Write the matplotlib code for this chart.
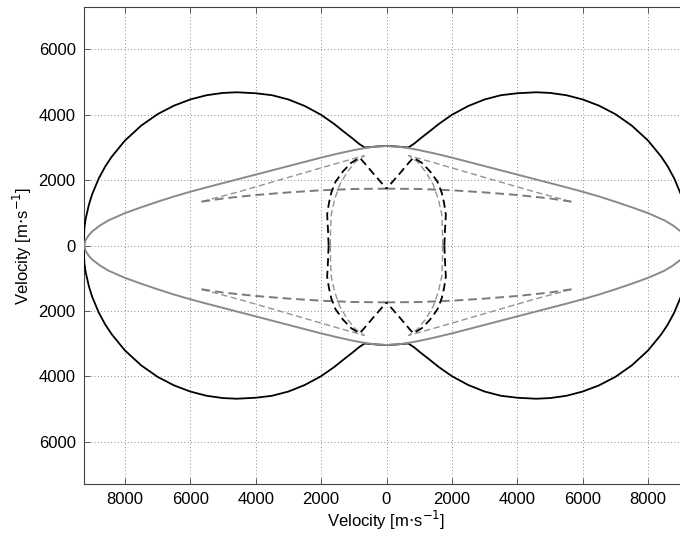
import numpy as np
import matplotlib
matplotlib.use("Agg")
import matplotlib.pyplot as plt
from matplotlib.ticker import FixedLocator

plt.rcParams["font.family"] = ["Liberation Sans", "DejaVu Sans"]
plt.rcParams["font.size"] = 12

# First-quadrant traces (x, y) in m/s; the surfaces are symmetric about both axes
QP_PHASE_X = [9260, 9240, 9200, 9100, 9000, 8800, 8600, 8400, 8000, 7500, 7000, 6500,
              6000, 5500, 5000, 4580, 4000, 3500, 3000, 2500, 2000, 1600, 1300, 1030,
              850, 670, 500, 250, 0]
QP_PHASE_Y = [0, 530, 810, 1250, 1570, 2050, 2420, 2720, 3210, 3670, 4020, 4280,
              4470, 4600, 4670, 4690, 4660, 4600, 4470, 4270, 4000, 3720, 3480, 3270,
              3120, 3000, 3012, 3035, 3045]

LENS_X = [9240, 9200, 9100, 9000, 8750, 8500, 8000, 7500, 7000, 6500, 6000, 5500,
          5000, 4500, 4000, 3500, 3000, 2500, 2000, 1500, 1000, 700, 400, 0]
LENS_Y = [0, 170, 320, 430, 620, 770, 990, 1170, 1340, 1500, 1645, 1780,
          1910, 2040, 2170, 2300, 2430, 2560, 2690, 2810, 2920, 2975, 3020, 3045]

QS_GROUP_X = [1770, 1790, 1815, 1760, 1690, 1560, 1330, 1080, 820, 620, 410, 200, 0]
QS_GROUP_Y = [0, 500, 950, 1300, 1610, 1950, 2270, 2530, 2690, 2460, 2210, 1970, 1740]

CUSP_OUTER_X = [1720, 1710, 1690, 1590, 1430, 1200, 950, 680, 1500, 2500, 3500, 4500, 5660]
CUSP_OUTER_Y = [0, 500, 950, 1400, 1860, 2250, 2560, 2750, 2520, 2230, 1940, 1650, 1340]

CUSP_INNER_X = [5660, 5000, 4000, 3000, 2000, 1000, 0]
CUSP_INNER_Y = [1340, 1440, 1545, 1625, 1690, 1730, 1740]

XTICKS = [-8000, -6000, -4000, -2000, 0, 2000, 4000, 6000, 8000]
XTICK_LABELS = ["8000", "6000", "4000", "2000", "0", "2000", "4000", "6000", "8000"]
YTICKS = [-6000, -4000, -2000, 0, 2000, 4000, 6000]
YTICK_LABELS = ["6000", "4000", "2000", "0", "2000", "4000", "6000"]


def closed(qx, qy):
    """Mirror a first-quadrant trace into a closed curve."""
    qx = np.asarray(qx, float)
    qy = np.asarray(qy, float)
    x = np.concatenate([qx, -qx[::-1], -qx, qx[::-1]])
    y = np.concatenate([qy, qy[::-1], -qy, -qy[::-1]])
    return x, y


def quadrants(ax, qx, qy, **kw):
    qx = np.asarray(qx, float)
    qy = np.asarray(qy, float)
    for sx, sy in [(1, 1), (-1, 1), (-1, -1), (1, -1)]:
        ax.plot(sx * qx, sy * qy, **kw)


def main():
    fig = plt.figure(figsize=(6.8, 5.34), dpi=100)
    ax = fig.add_axes([84.0 / 680, 50.0 / 534, 605.0 / 680, 477.0 / 534])

    dash = (0, (4.5, 2.5))
    x, y = closed(QP_PHASE_X, QP_PHASE_Y)
    ax.plot(x, y, color="black", lw=1.3, zorder=3)
    x, y = closed(LENS_X, LENS_Y)
    ax.plot(x, y, color="#8a8a8a", lw=1.4, zorder=4)
    quadrants(ax, QS_GROUP_X, QS_GROUP_Y, color="black", lw=1.3, linestyle=dash, zorder=3)
    quadrants(ax, CUSP_OUTER_X, CUSP_OUTER_Y, color="#939393", lw=1.0, linestyle=dash, zorder=2)
    quadrants(ax, CUSP_INNER_X, CUSP_INNER_Y, color="#7a7a7a", lw=1.4, linestyle=dash, zorder=2)

    ax.set_xlim(-9250, 9250)
    ax.set_ylim(-7300, 7300)
    ax.xaxis.set_major_locator(FixedLocator(XTICKS))
    ax.yaxis.set_major_locator(FixedLocator(YTICKS))
    ax.set_xticklabels(XTICK_LABELS)
    ax.set_yticklabels(YTICK_LABELS)
    ax.tick_params(direction="in", length=4, width=0.6, top=True, right=True,
                   labelsize=12, colors="#444444", labelcolor="black", pad=6)
    ax.grid(True, color="#666666", linestyle=(0, (1, 3)), linewidth=0.6)
    ax.set_axisbelow(True)
    for sp in ax.spines.values():
        sp.set_color("#444444")
        sp.set_linewidth(0.8)

    ax.set_xlabel(r"Velocity [m$\cdot$s$^{-1}$]", fontsize=12, labelpad=1)
    ax.set_ylabel(r"Velocity [m$\cdot$s$^{-1}$]", fontsize=12, labelpad=3)

    fig.savefig("out.png", dpi=100)
    plt.close(fig)


if __name__ == "__main__":
    main()
